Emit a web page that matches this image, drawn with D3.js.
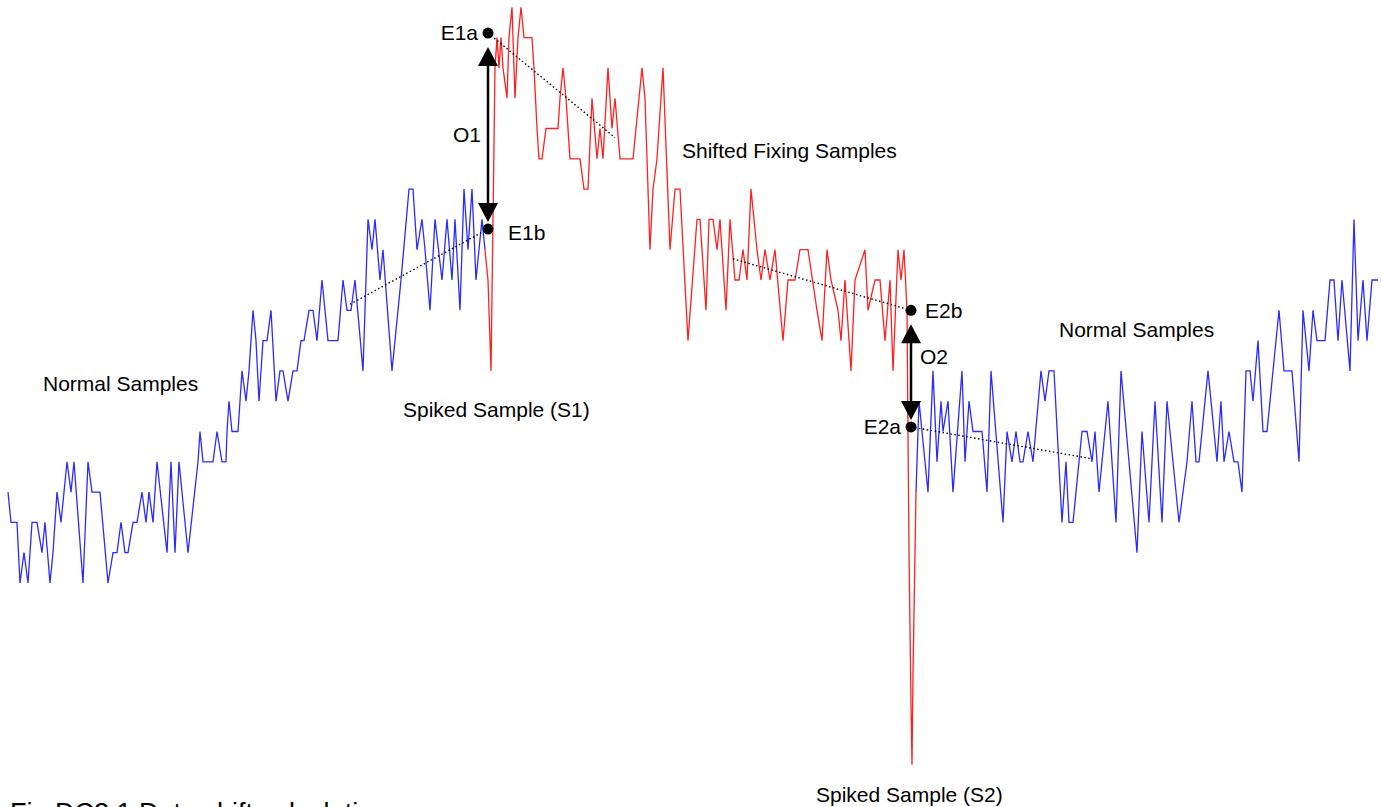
<!DOCTYPE html>
<html>
<head>
<meta charset="utf-8">
<script src="https://cdn.jsdelivr.net/npm/d3@7"></script>
<style>
  html, body { margin: 0; padding: 0; background: #fff; }
  svg { display: block; font-family: "Liberation Sans", Arial, sans-serif; }
</style>
</head>
<body>
<div id="chart"></div>
<script>
// Samples are [sample position, quantised level]
const normalBefore = [
  [8,3],[11,2],[17,2],[20,0],[24,1],[28,0],[32,2],[37,2],[42,1],[45,2],[50,0],[53,1],[57,3],[61,2],
  [67,4],[71,3],[74,4],[83,0],[88,4],[92,3],[100,3],[108,0],[113,1],[117,1],[121,2],[125,1],[128,1],
  [133,2],[137,2],[142,3],[146,2],[149,3],[153,2],[157,4],[167,1],[171,4],[175,1],[179,4],[188,1],
  [198,4],[200,5],[203,4],[213,4],[217,5],[222,4],[226,4],[227,5],[229,6],[232,5],[238,5],[240,6],
  [242,7],[246,6],[249,7],[253,9],[256,8],[259,6],[263,8],[267,8],[271,9],[276,6],[280,7],[283,7],
  [288,6],[293,7],[297,7],[301,8],[304,8],[309,9],[313,9],[317,8],[322,10],[328,8],[338,8],[343,10],
  [347,9],[351,9],[355,10],[363,7],[368,12],[372,11],[375,12],[380,10],[383,11],[392,7],[401,10],
  [409,13],[413,13],[417,11],[422,12],[425,11],[430,9],[435,12],[442,10],[447,12],[452,10],[455,12],
  [460,9],[464,13],[468,11],[472,13],[476,10],[482,12],[485,11]
];

const shiftedFixing = [
  [485,11],[488,10],[491,7],[493,12],[495,17],[497,18],[499,17],[501,18],[503,17],[507,16],[509,18],
  [512,19],[515,16],[518,18],[521,19],[524,18],[532,18],[534,17],[537,15],[539,14],[542,14],[546,15],
  [558,15],[560,16],[563,17],[566,16],[570,14],[580,14],[584,13],[588,13],[592,16],[597,14],[600,15],
  [603,14],[608,17],[612,15],[615,16],[620,14],[628,14],[633,14],[642,17],[645,16],[650,11],[653,13],
  [657,14],[663,17],[670,11],[675,13],[680,13],[688,8],[697,12],[700,12],[706,9],[709,12],[713,12],
  [717,11],[720,12],[726,9],[730,12],[735,10],[739,10],[743,11],[747,10],[751,13],[757,11],[761,10],
  [765,11],[770,10],[775,11],[783,8],[788,10],[795,10],[800,11],[808,11],[817,9],[822,8],[827,11],
  [831,10],[838,9],[841,8],[845,10],[851,7],[855,10],[865,11],[868,9],[875,10],[880,10],[885,8],
  [890,10],[893,7],[898,11],[901,10],[904,11],[907,9],[909,1],[911,-4],[912,-6],[913,-3],[915,1],[916,3]
];

const normalAfter = [
  [916,3],[919,6],[922,5],[925,4],[928,3],[933,7],[937,4],[941,6],[943,5],[948,6],[953,3],[962,7],
  [965,4],[969,6],[973,5],[982,5],[987,3],[991,7],[1003,2],[1007,5],[1012,4],[1016,5],[1020,4],
  [1023,4],[1028,5],[1033,4],[1041,7],[1045,6],[1049,7],[1054,7],[1062,2],[1066,4],[1069,2],[1073,2],
  [1082,5],[1087,5],[1092,4],[1095,5],[1099,3],[1108,6],[1116,2],[1121,7],[1137,1],[1142,5],[1149,2],
  [1155,6],[1162,2],[1167,6],[1179,2],[1187,4],[1192,6],[1196,4],[1199,4],[1208,7],[1217,4],[1221,6],
  [1224,4],[1229,5],[1234,4],[1238,4],[1242,3],[1246,7],[1250,7],[1253,6],[1258,8],[1263,5],[1267,5],
  [1279,9],[1284,7],[1292,7],[1299,4],[1303,9],[1309,7],[1313,9],[1317,8],[1325,8],[1330,10],
  [1334,10],[1338,8],[1342,10],[1350,7],[1354,12],[1358,8],[1363,10],[1367,8],[1372,10],[1378,10]
];

// Estimated points and the trend lines they come from
const estimates = [
  { name: "E1a", t: 488, v: 18.15 },
  { name: "E1b", t: 488, v: 11.68 },
  { name: "E2b", t: 911, v: 9.0 },
  { name: "E2a", t: 911, v: 5.15 }
];
const trends = [
  [[350, 9.2], [488, 11.68]],
  [[488, 18.15], [615, 14.7]],
  [[733, 10.7], [911, 9.0]],
  [[911, 5.15], [1092, 4.1]]
];
const offsets = [
  { name: "O1", from: "E1a", to: "E1b" },
  { name: "O2", from: "E2b", to: "E2a" }
];

const width = 1383, height = 807;

const svg = d3.select("#chart").append("svg")
  .attr("width", width)
  .attr("height", height);

svg.append("rect").attr("width", width).attr("height", height).attr("fill", "#fff");

// one sample position per pixel column, levels are 30.3px apart
const xScale = d3.scaleLinear().domain([0, 1383]).range([0, width]);
const yScale = d3.scaleLinear().domain([0, 19]).range([583, 7.3]);

const line = d3.line()
  .x(d => xScale(d[0]))
  .y(d => yScale(d[1]));

svg.append("path").datum(normalBefore)
  .attr("d", line).attr("fill", "none")
  .attr("stroke", "#2b2bff").attr("stroke-width", 1.3);
svg.append("path").datum(normalAfter)
  .attr("d", line).attr("fill", "none")
  .attr("stroke", "#2b2bff").attr("stroke-width", 1.3);
svg.append("path").datum(shiftedFixing)
  .attr("d", line).attr("fill", "none")
  .attr("stroke", "#ff2020").attr("stroke-width", 1.3);

// dotted trend lines
svg.selectAll("path.trend")
  .data(trends)
  .enter()
  .append("path")
    .attr("class", "trend")
    .attr("d", line)
    .attr("fill", "none")
    .attr("stroke", "#000")
    .attr("stroke-width", 1.4)
    .attr("stroke-dasharray", "1.5,2.5");

// offset arrows between the estimates
const byName = {};
estimates.forEach(e => byName[e.name] = e);
const headLen = 19, headHalf = 10;

offsets.forEach(o => {
  const a = byName[o.from], b = byName[o.to];
  const x = xScale(a.t);
  const yTop = yScale(a.v) + 14;   // upper tip
  const yBot = yScale(b.v) - 7;    // lower tip
  svg.append("line")
    .attr("x1", x).attr("x2", x)
    .attr("y1", yTop + headLen - 2).attr("y2", yBot - headLen + 2)
    .attr("stroke", "#000").attr("stroke-width", 2.5);
  svg.append("path")
    .attr("d", `M${x},${yTop}L${x - headHalf},${yTop + headLen}L${x + headHalf},${yTop + headLen}Z`)
    .attr("fill", "#000");
  svg.append("path")
    .attr("d", `M${x},${yBot}L${x - headHalf},${yBot - headLen}L${x + headHalf},${yBot - headLen}Z`)
    .attr("fill", "#000");
});

svg.selectAll("circle.est")
  .data(estimates)
  .enter()
  .append("circle")
    .attr("class", "est")
    .attr("cx", d => xScale(d.t))
    .attr("cy", d => yScale(d.v))
    .attr("r", 5.5)
    .attr("fill", "#000");

// text labels
const labels = [
  { text: "E1a", x: 478, y: 40, anchor: "end" },
  { text: "E1b", x: 508, y: 240, anchor: "start" },
  { text: "O1", x: 453, y: 142, anchor: "start" },
  { text: "E2b", x: 925, y: 318, anchor: "start" },
  { text: "E2a", x: 901, y: 434, anchor: "end" },
  { text: "O2", x: 920, y: 364, anchor: "start" },
  { text: "Normal Samples", x: 43, y: 391, anchor: "start" },
  { text: "Spiked Sample (S1)", x: 403, y: 417, anchor: "start" },
  { text: "Shifted Fixing Samples", x: 682, y: 158, anchor: "start" },
  { text: "Normal Samples", x: 1059, y: 337, anchor: "start" },
  { text: "Spiked Sample (S2)", x: 816, y: 802, anchor: "start" }
];

svg.selectAll("text.lbl")
  .data(labels)
  .enter()
  .append("text")
    .attr("class", "lbl")
    .attr("x", d => d.x)
    .attr("y", d => d.y)
    .attr("text-anchor", d => d.anchor)
    .attr("font-size", 21)
    .attr("fill", "#000")
    .text(d => d.text);

// caption runs off the bottom edge, as in the source figure
svg.append("text")
  .attr("x", 10)
  .attr("y", 822)
  .attr("font-size", 27)
  .attr("fill", "#000")
  .text("Fig DC2.1 Data shift calculation");
</script>
</body>
</html>
